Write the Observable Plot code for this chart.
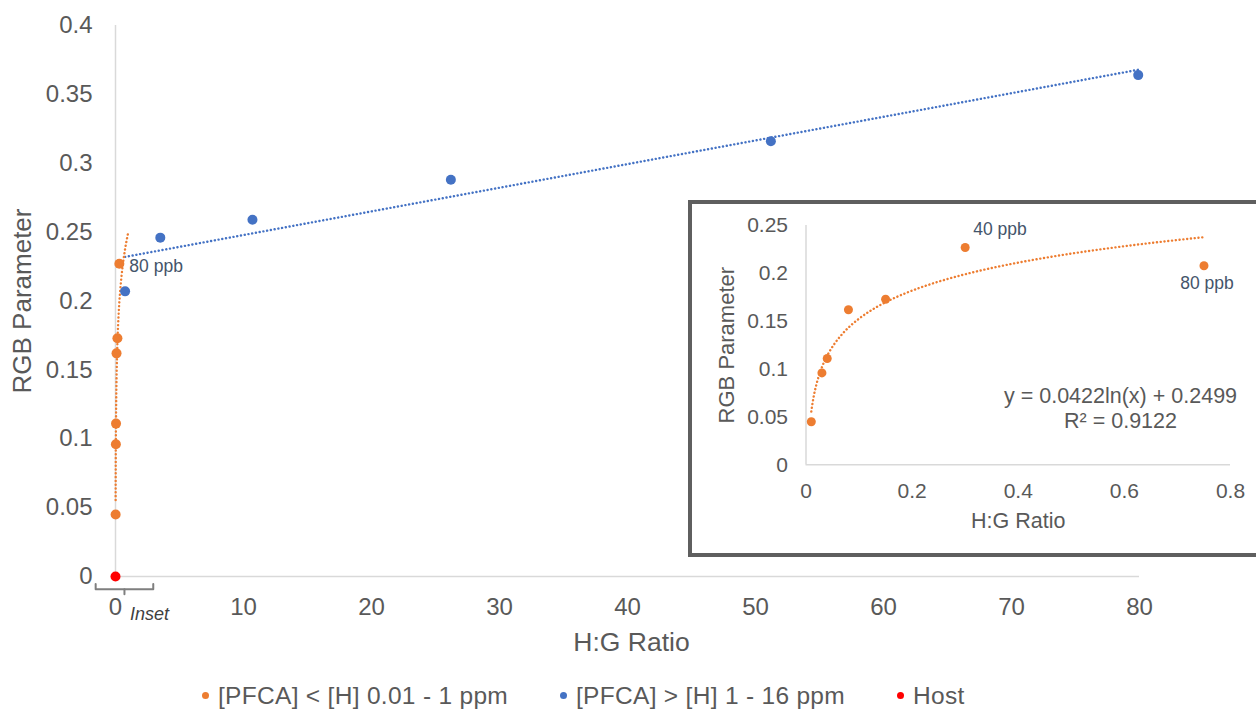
<!DOCTYPE html>
<html>
<head>
<meta charset="utf-8">
<script src="https://cdn.jsdelivr.net/npm/d3@7"></script>
<script src="https://cdn.jsdelivr.net/npm/@observablehq/plot@0.6"></script>
<style>
  html, body { margin: 0; padding: 0; background: #fff; }
  body { width: 1256px; height: 710px; overflow: hidden; position: relative;
         font-family: "Liberation Sans", Arial, sans-serif; }
  #main { position: absolute; left: 0; top: 0; }
  #inset { position: absolute; left: 688px; top: 200px; width: 580px; height: 349px;
           border: 4px solid #5f5f5f; background: #fff; }
  #legend { position: absolute; left: 0; top: 681px; width: 1256px; height: 29px; }
  .item { position: absolute; top: 0; height: 29px; display: flex; align-items: center;
          font-size: 24.5px; letter-spacing: 0.3px; color: #595959; white-space: nowrap; }
  .dot { width: 7px; height: 7px; border-radius: 50%; margin-right: 9px; }
</style>
</head>
<body>
<div id="main"></div>
<div id="inset"></div>
<div id="legend"></div>
<script>
// ---------- data ----------
// [PFCA] < [H] 0.01 - 1 ppm (orange), as drawn in the main chart
const lowRatioMain = [0.01, 0.03, 0.04, 0.08, 0.15, 0.30];
const lowRGBMain   = [0.045, 0.096, 0.111, 0.162, 0.173, 0.227];
// [PFCA] > [H] 1 - 16 ppm (blue)
const highRatio = [0.75, 3.5, 10.7, 26.2, 51.2, 79.9];
const highRGB   = [0.207, 0.246, 0.259, 0.288, 0.316, 0.364];
// Host (red)
const hostRatio = [0];
const hostRGB   = [0];
// Inset: low-concentration series
const insetRatio = [0.01, 0.03, 0.04, 0.08, 0.15, 0.30, 0.75];
const insetRGB   = [0.045, 0.096, 0.111, 0.162, 0.173, 0.227, 0.208];
// Logarithmic trendline reported in the chart: y = a ln(x) + b
const logFitA = 0.0422;
const logFitB = 0.2499;
const logFitR2 = "0.9122";
const logTrendMainRange  = [0.01, 1];
const logTrendInsetRange = [0.01, 0.75];
// Ticks
const xTicksMain = [0, 10, 20, 30, 40, 50, 60, 70, 80];
const yTicksMain = [0, 0.05, 0.1, 0.15, 0.2, 0.25, 0.3, 0.35, 0.4];
const xTicksInset = [0, 0.2, 0.4, 0.6, 0.8];
const yTicksInset = [0, 0.05, 0.1, 0.15, 0.2, 0.25];
// Point labels
const mainLabels = [{ratio: 0.30, rgb: 0.227, text: "80 ppb"}];
const insetLabelTop = [{ratio: 0.30, rgb: 0.227, text: "40 ppb"}];
const insetLabelBottom = [{ratio: 0.75, rgb: 0.208, text: "80 ppb"}];
// Legend
const legendItems = [
  {label: "[PFCA] < [H] 0.01 - 1 ppm", color: "#ED7D31", left: 202},
  {label: "[PFCA] > [H] 1 - 16 ppm", color: "#4472C4", left: 560},
  {label: "Host", color: "#FF0000", left: 897}
];

// ---------- helpers ----------
const ORANGE = "#ED7D31", BLUE = "#4472C4", RED = "#FF0000";
const TEXT = "#595959", AXIS = "#D9D9D9", LABEL = "#44546A";
const FONT = '"Liberation Sans", Arial, sans-serif';
const fmt = d => String(d);
const zip = (xs, ys) => xs.map((x, i) => ({ratio: x, rgb: ys[i]}));
const lowMain = zip(lowRatioMain, lowRGBMain);
const high = zip(highRatio, highRGB);
const host = zip(hostRatio, hostRGB);
const inset = zip(insetRatio, insetRGB);
function logTrend([x0, x1]) {
  const n = 120;
  return d3.range(n + 1).map(i => {
    const x = x0 * Math.pow(x1 / x0, i / n);
    return {ratio: x, rgb: logFitA * Math.log(x) + logFitB};
  });
}
const dotted = {strokeWidth: 2.4, strokeDasharray: "0.1 3.7", strokeLinecap: "round"};

// ---------- main chart ----------
const main = Plot.plot({
  width: 1256, height: 680,
  marginLeft: 115, marginRight: 117, marginTop: 25, marginBottom: 104,
  style: {fontFamily: FONT, color: TEXT, background: "transparent", overflow: "visible"},
  x: {domain: [0, 80]},
  y: {domain: [0, 0.4]},
  marks: [
    Plot.ruleY([0], {stroke: AXIS, strokeWidth: 1.5}),
    Plot.ruleX([0], {stroke: AXIS, strokeWidth: 1.5}),
    Plot.axisX({ticks: xTicksMain, tickFormat: fmt, tickSize: 0, tickPadding: 21, fontSize: 24, label: null}),
    Plot.axisY({ticks: yTicksMain, tickFormat: fmt, tickSize: 0, tickPadding: 23, fontSize: 24, label: null}),
    Plot.text(["H:G Ratio"], {frameAnchor: "bottom", dx: 4, dy: 66, textAnchor: "middle", lineAnchor: "middle", fontSize: 26.5, fill: TEXT}),
    Plot.text(["RGB Parameter"], {frameAnchor: "left", rotate: -90, dx: -93, textAnchor: "middle", lineAnchor: "middle", fontSize: 26, fill: TEXT}),
    Plot.linearRegressionY(high, {x: "ratio", y: "rgb", stroke: BLUE, ci: 0, ...dotted}),
    Plot.line(logTrend(logTrendMainRange), {x: "ratio", y: "rgb", stroke: ORANGE, ...dotted}),
    Plot.dot(lowMain, {x: "ratio", y: "rgb", r: 5, fill: ORANGE}),
    Plot.dot(high, {x: "ratio", y: "rgb", r: 5, fill: BLUE}),
    Plot.dot(host, {x: "ratio", y: "rgb", r: 5, fill: RED}),
    Plot.text(mainLabels, {x: "ratio", y: "rgb", text: "text", dx: 10, dy: 2.5, textAnchor: "start", lineAnchor: "middle", fontSize: 17.5, fill: LABEL}),
    // "Inset" bracket below the origin
    Plot.line([{ratio: -1.55, rgb: -0.0054}, {ratio: -1.55, rgb: -0.0092}, {ratio: 2.95, rgb: -0.0092}, {ratio: 2.95, rgb: -0.0054}],
      {x: "ratio", y: "rgb", stroke: "#7f7f7f", strokeWidth: 2}),
    Plot.line([{ratio: 0.7, rgb: -0.0092}, {ratio: 0.7, rgb: -0.0128}],
      {x: "ratio", y: "rgb", stroke: "#7f7f7f", strokeWidth: 2}),
    Plot.text(["Inset"], {x: 2.65, y: -0.0272, fontSize: 18, fontStyle: "italic", fill: "#404040", lineAnchor: "middle"})
  ]
});
document.getElementById("main").appendChild(main);

// ---------- inset chart ----------
const insetPlot = Plot.plot({
  width: 580, height: 349,
  marginLeft: 113.5, marginRight: 42, marginTop: 21, marginBottom: 88.7,
  style: {fontFamily: FONT, color: TEXT, background: "transparent", overflow: "visible"},
  x: {domain: [0, 0.8]},
  y: {domain: [0, 0.25]},
  marks: [
    Plot.ruleY([0], {stroke: AXIS, strokeWidth: 1.5}),
    Plot.ruleX([0], {stroke: AXIS, strokeWidth: 1.5}),
    Plot.axisX({ticks: xTicksInset, tickFormat: fmt, tickSize: 0, tickPadding: 18, fontSize: 21, label: null}),
    Plot.axisY({ticks: yTicksInset, tickFormat: fmt, tickSize: 0, tickPadding: 18, fontSize: 21, label: null}),
    Plot.text(["H:G Ratio"], {frameAnchor: "bottom", dy: 56.5, textAnchor: "middle", lineAnchor: "middle", fontSize: 21.5, fill: TEXT}),
    Plot.text(["RGB Parameter"], {frameAnchor: "left", rotate: -90, dx: -79.5, textAnchor: "middle", lineAnchor: "middle", fontSize: 22, fill: TEXT}),
    Plot.line(logTrend(logTrendInsetRange), {x: "ratio", y: "rgb", stroke: ORANGE, ...dotted}),
    Plot.dot(inset, {x: "ratio", y: "rgb", r: 4.5, fill: ORANGE}),
    Plot.text(insetLabelTop, {x: "ratio", y: "rgb", text: "text", dx: 8, dy: -18, textAnchor: "start", lineAnchor: "middle", fontSize: 17.5, fill: LABEL}),
    Plot.text(insetLabelBottom, {x: "ratio", y: "rgb", text: "text", dx: 3, dy: 18, textAnchor: "middle", lineAnchor: "middle", fontSize: 17.5, fill: LABEL}),
    Plot.text([`y = ${logFitA}ln(x) + ${logFitB}\nR² = ${logFitR2}`],
      {frameAnchor: "bottom-right", dx: -110, dy: -57.6, textAnchor: "middle", lineAnchor: "middle", lineHeight: 1.17, fontSize: 21.5, fill: TEXT})
  ]
});
document.getElementById("inset").appendChild(insetPlot);

// ---------- legend ----------
const legend = document.getElementById("legend");
for (const it of legendItems) {
  const el = document.createElement("div");
  el.className = "item";
  el.style.left = it.left + "px";
  const dot = document.createElement("span");
  dot.className = "dot";
  dot.style.background = it.color;
  const txt = document.createElement("span");
  txt.textContent = it.label;
  el.appendChild(dot); el.appendChild(txt);
  legend.appendChild(el);
}
</script>
</body>
</html>
